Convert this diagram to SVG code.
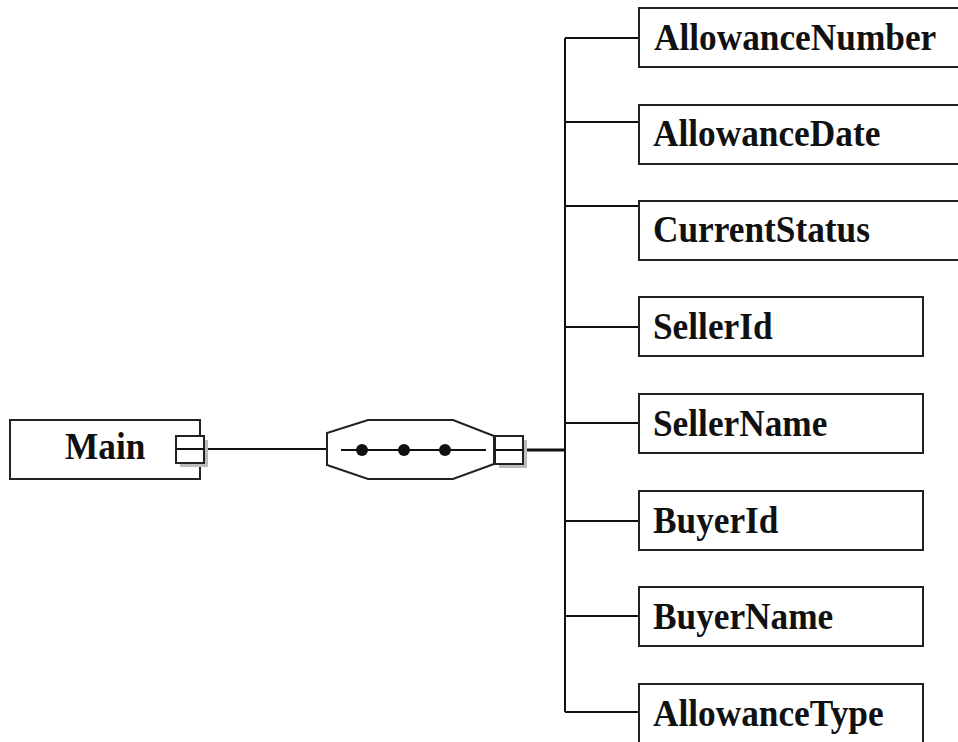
<svg xmlns="http://www.w3.org/2000/svg" width="958" height="742" viewBox="0 0 958 742">
<style>
.box{fill:#fff;stroke:#222;stroke-width:2}
.sq{fill:#fff;stroke:#222;stroke-width:2}
.shadow{fill:#bbb}
.ln{stroke:#111;stroke-width:2;fill:none}
.t{font-family:"Liberation Serif","Times New Roman",serif;font-weight:bold;font-size:35.3px;fill:#111}
</style>
<rect width="958" height="742" fill="#fff"/>
<g id="connectors">
<line class="ln" x1="204" y1="449" x2="327" y2="449"/>
<line x1="523" y1="450" x2="565" y2="450" stroke="#111" stroke-width="3"/>
<line class="ln" x1="565" y1="38" x2="565" y2="712"/>
<line class="ln" x1="565" y1="38" x2="639" y2="38"/>
<line class="ln" x1="565" y1="122" x2="639" y2="122"/>
<line class="ln" x1="565" y1="206" x2="639" y2="206"/>
<line class="ln" x1="565" y1="327" x2="639" y2="327"/>
<line class="ln" x1="565" y1="423" x2="639" y2="423"/>
<line class="ln" x1="565" y1="521" x2="639" y2="521"/>
<line class="ln" x1="565" y1="616" x2="639" y2="616"/>
<line class="ln" x1="565" y1="712" x2="639" y2="712"/>
</g>
<g id="main">
<rect class="box" x="10" y="420" width="190" height="59"/>
<text class="t" transform="translate(65,459) scale(1,1.08)">Main</text>
<rect class="shadow" x="180" y="440" width="28" height="27"/>
<rect class="sq" x="176" y="436" width="28" height="27"/>
<line class="ln" x1="176" y1="449" x2="204" y2="449"/>
</g>
<g id="sequence">
<polygon class="box" points="368,420 453,420 494,436 494,464 453,479 368,479 327,465 327,433"/>
<line class="ln" x1="341" y1="450" x2="486" y2="450"/>
<circle cx="362" cy="450" r="6" fill="#111"/>
<circle cx="404" cy="450" r="6" fill="#111"/>
<circle cx="445" cy="450" r="6" fill="#111"/>
<rect class="shadow" x="499" y="440" width="28" height="28"/>
<rect class="sq" x="495" y="436" width="28" height="28"/>
<line class="ln" x1="495" y1="450" x2="523" y2="450"/>
</g>
<g id="AllowanceNumber"><rect class="box" x="639" y="8" width="330" height="59"/><text class="t" transform="translate(654,50) scale(1,1.08)">AllowanceNumber</text></g>
<g id="AllowanceDate"><rect class="box" x="639" y="105" width="330" height="59"/><text class="t" transform="translate(653,146) scale(1,1.08)">AllowanceDate</text></g>
<g id="CurrentStatus"><rect class="box" x="639" y="201" width="330" height="59"/><text class="t" transform="translate(653,242) scale(1,1.08)">CurrentStatus</text></g>
<g id="SellerId"><rect class="box" x="639" y="297" width="284" height="59"/><text class="t" transform="translate(653,339) scale(1,1.08)">SellerId</text></g>
<g id="SellerName"><rect class="box" x="639" y="394" width="284" height="59"/><text class="t" transform="translate(653,436) scale(1,1.08)">SellerName</text></g>
<g id="BuyerId"><rect class="box" x="639" y="491" width="284" height="59"/><text class="t" transform="translate(653,533) scale(1,1.08)">BuyerId</text></g>
<g id="BuyerName"><rect class="box" x="639" y="587" width="284" height="59"/><text class="t" transform="translate(653,629) scale(1,1.08)">BuyerName</text></g>
<g id="AllowanceType"><rect class="box" x="639" y="684" width="284" height="70"/><text class="t" transform="translate(653,726) scale(1,1.08)">AllowanceType</text></g>
</svg>
